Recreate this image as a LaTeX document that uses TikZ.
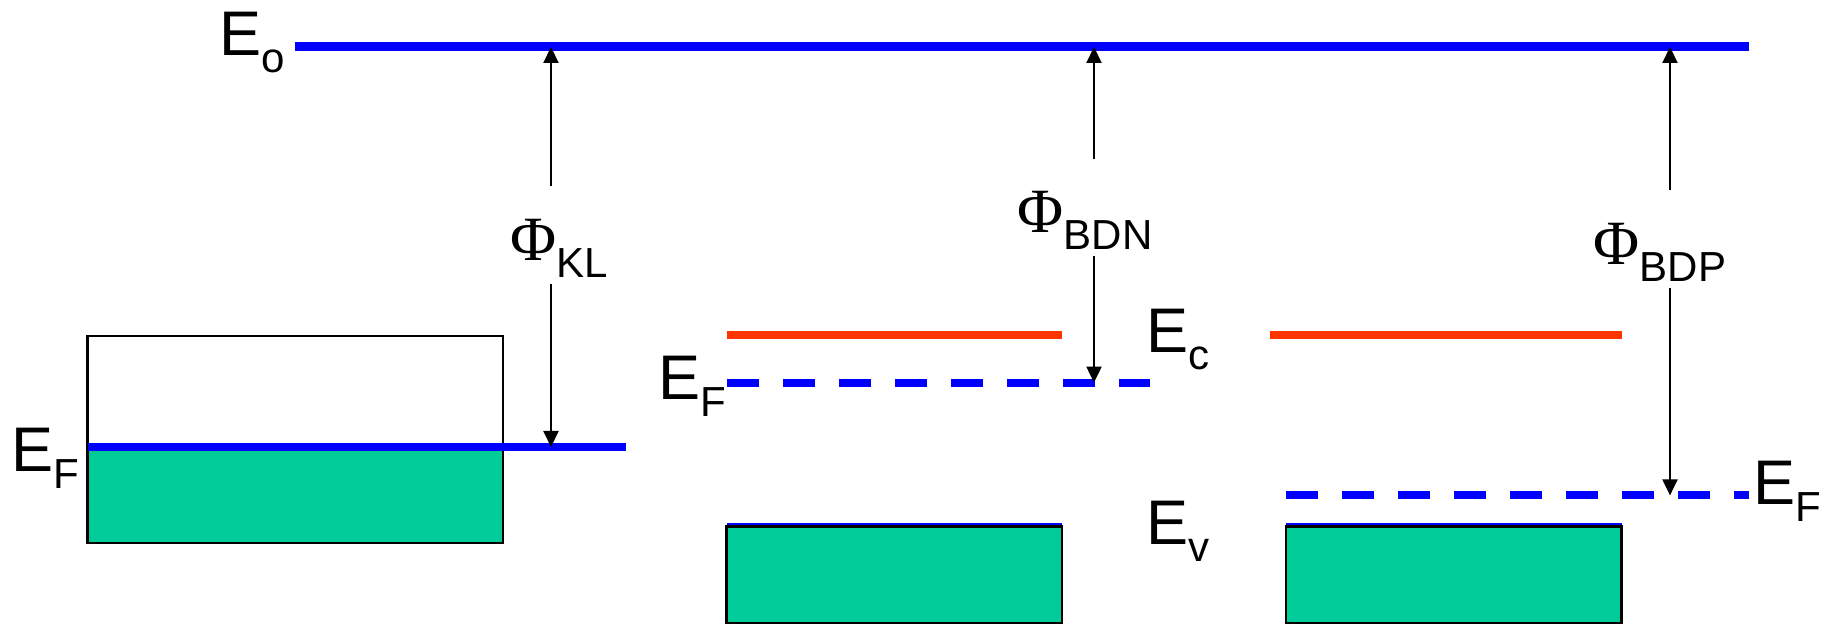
\documentclass[tikz,border=0pt]{standalone}
\usepackage{fontspec}
\setmainfont{Liberation Sans}
\newfontfamily\phifont{Liberation Serif}
\usetikzlibrary{arrows.meta,positioning}
\definecolor{levelblue}{HTML}{0000FF}
\definecolor{bandred}{HTML}{FF3300}
\definecolor{bandgreen}{HTML}{00CC99}
\newcommand{\subfont}{\fontsize{11.95}{14}\selectfont}
\newcommand{\elev}[1]{E\raisebox{-0.165cm}{\subfont #1}}
\newcommand{\wfn}[1]{{\phifont Φ}\raisebox{-0.16cm}{\subfont #1}}
\tikzset{
  vacuum/.style={line width=2.56pt,levelblue},
  metalf/.style={line width=2.3pt,levelblue},
  fermi/.style={line width=2.3pt,levelblue,dash pattern=on 0.32cm off 0.24cm},
  cband/.style={line width=2pt,bandred},
  vedge/.style={line width=0.5pt,levelblue},
  vband/.style={draw=black,line width=0.6pt,fill=bandgreen},
  arrow/.style={-{Triangle[length=0.16cm,width=0.15cm]},line width=0.6pt,black},
  elabel/.style={inner sep=0pt,anchor=base west,font=\fontsize{17.93}{20}\selectfont}
}

\begin{document}
\begin{tikzpicture}[x=0.01cm,y=-0.01cm]
    \useasboundingbox (0,0) rectangle (1826,625);
    % level end points
    \coordinate (e0w) at (295,47);    \coordinate (e0e) at (1749,47);
    \coordinate (efmw) at (87.5,447); \coordinate (efme) at (626,447);
    \coordinate (ecnw) at (726.5,335); \coordinate (ecne) at (1062,335);
    \coordinate (efnw) at (726.5,382.6); \coordinate (efne) at (1150,382.6);
    \coordinate (ecpw) at (1270,335); \coordinate (ecpe) at (1621.5,335);
    \coordinate (efpw) at (1286,495.4); \coordinate (efpe) at (1749,495.4);
    % metal
    \fill[bandgreen] (87.5,447) rectangle (503,543.2);
    \draw[line width=0.6pt] (87.5,335.6) rectangle (503,543.2);
    \draw[metalf] (efmw) -- (efme);
    % n-type
    \draw[cband] (ecnw) -- (ecne);
    \draw[fermi] (efnw) -- (efne);
    \draw[vband] (726.5,526.5) rectangle (1062,623);
    \draw[vedge] (726.5,524) -- (1062,524);
    % p-type
    \draw[cband] (ecpw) -- (ecpe);
    \draw[fermi] (efpw) -- (efpe);
    \draw[vband] (1286,526.5) rectangle (1621.5,623);
    \draw[vedge] (1286,524) -- (1621.5,524);
    % vacuum level
    \draw[vacuum] (e0w) -- (e0e);
    % labels
    \node[elabel] (e0lbl) at (219,56) {\elev{o}};
    \node[elabel] (efmlbl) at (11,472) {\elev{F}};
    \node[elabel] (efnlbl) at (658,400) {\elev{F}};
    \node[elabel] (ecnlbl) at (1146,353) {\elev{c}};
    \node[elabel] (evnlbl) at (1146,545) {\elev{v}};
    \node[elabel] (efplbl) at (1753,505) {\elev{F}};
    \node[elabel] (phikl) at (510,261) {\wfn{KL}};
    \node[elabel] (phibdn) at (1017,233) {\wfn{BDN}};
    \node[elabel] (phibdp) at (1593,265) {\wfn{BDP}};
    % work function arrows
    \coordinate (klA) at (551,186.5);  \coordinate (klB) at (551,284);
    \coordinate (bdnA) at (1094,158.6); \coordinate (bdnB) at (1094,256);
    \coordinate (bdpA) at (1670,190.5); \coordinate (bdpB) at (1670,288);
    \draw[arrow] (klA) -- (klA |- e0w);
    \draw[arrow] (klB) -- (klB |- efmw);
    \draw[arrow] (bdnA) -- (bdnA |- e0w);
    \draw[arrow] (bdnB) -- (bdnB |- efnw);
    \draw[arrow] (bdpA) -- (bdpA |- e0w);
    \draw[arrow] (bdpB) -- (bdpB |- efpw);
\end{tikzpicture}
\end{document}
